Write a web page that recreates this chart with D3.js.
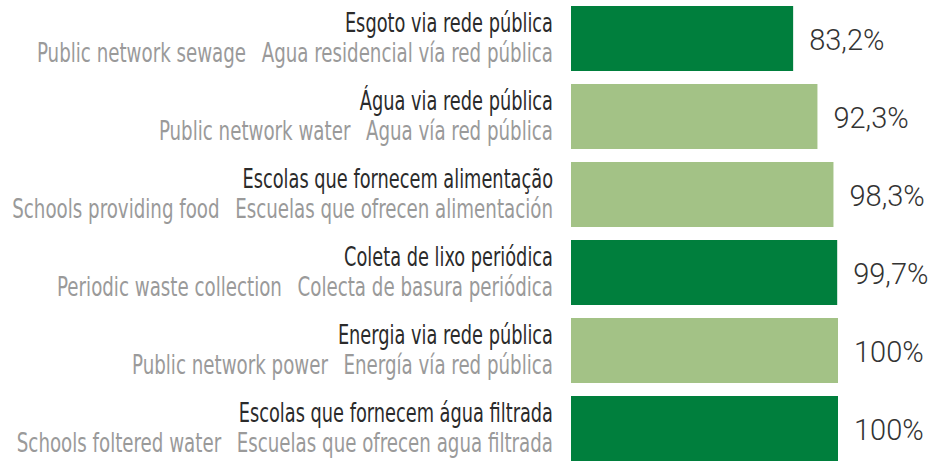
<!DOCTYPE html>
<html>
<head>
<meta charset="utf-8">
<script src="https://cdn.jsdelivr.net/npm/d3@7"></script>
<style>
  html, body { margin: 0; padding: 0; background: #fff; }
  svg { display: block; }
  .lbl-pt { font-family: "DejaVu Sans Condensed", "DejaVu Sans", sans-serif; fill: #2b2b2b; }
  .lbl-sub { font-family: "DejaVu Sans Condensed", "DejaVu Sans", sans-serif; fill: #9a9a9a; }
  .val { font-family: "Roboto", "Liberation Sans", sans-serif; font-weight: 300; fill: #333; }
</style>
</head>
<body>
<svg id="chart" width="933" height="464"></svg>
<script>
// Indicators (Portuguese / English / Spanish)
const labelsPt = [
  "Esgoto via rede pública",
  "Água via rede pública",
  "Escolas que fornecem alimentação",
  "Coleta de lixo periódica",
  "Energia via rede pública",
  "Escolas que fornecem água filtrada"
];
const labelsEn = [
  "Public network sewage",
  "Public network water",
  "Schools providing food",
  "Periodic waste collection",
  "Public network power",
  "Schools foltered water"
];
const labelsEs = [
  "Agua residencial vía red pública",
  "Agua vía red pública",
  "Escuelas que ofrecen alimentación",
  "Colecta de basura periódica",
  "Energía vía red pública",
  "Escuelas que ofrecen agua filtrada"
];
// Share of schools, in percent
const values = [83.2, 92.3, 98.3, 99.7, 100, 100];
// Which shade each bar uses
const barShade = ["dark", "light", "light", "dark", "light", "dark"];

const shades = { dark: "#007F3D", light: "#A3C286" };

const svg = d3.select("#chart");

const x = d3.scaleLinear().domain([0, 100]).range([571, 838]);
const y = d3.scaleBand()
  .domain(d3.range(values.length))
  .range([6, 461])
  .paddingInner(13 / 78)
  .paddingOuter(0);

const fmt = v => (Number.isInteger(v) ? String(v) : v.toFixed(1).replace(".", ",")) + "%";

const rows = svg.selectAll("g.row")
  .data(values.map((v, i) => ({ i, v })))
  .join("g")
  .attr("class", "row");

rows.append("rect")
  .attr("x", x(0))
  .attr("y", d => y(d.i))
  .attr("width", d => x(d.v) - x(0))
  .attr("height", y.bandwidth())
  .attr("fill", d => shades[barShade[d.i]]);

rows.append("text")
  .attr("class", "val")
  .attr("x", d => x(d.v) + 16)
  .attr("y", d => y(d.i) + y.bandwidth() / 2 + 11)
  .attr("font-size", 29)
  .text(d => fmt(d.v));

// Category labels: a condensed face, narrowed further to a tight set width
const labelRight = 553;

rows.append("text")
  .attr("class", "lbl-pt")
  .attr("transform", d => `translate(${labelRight},${y(d.i) + y.bandwidth() / 2 - 6.5}) scale(0.76,1)`)
  .attr("text-anchor", "end")
  .attr("font-size", 26)
  .text(d => labelsPt[d.i]);

const sub = rows.append("text")
  .attr("class", "lbl-sub")
  .attr("transform", d => `translate(${labelRight},${y(d.i) + y.bandwidth() / 2 + 23}) scale(0.78,1)`)
  .attr("text-anchor", "end")
  .attr("font-size", 26);
sub.append("tspan").text(d => labelsEn[d.i]);
sub.append("tspan").attr("dx", 20).text(d => labelsEs[d.i]);
</script>
</body>
</html>
